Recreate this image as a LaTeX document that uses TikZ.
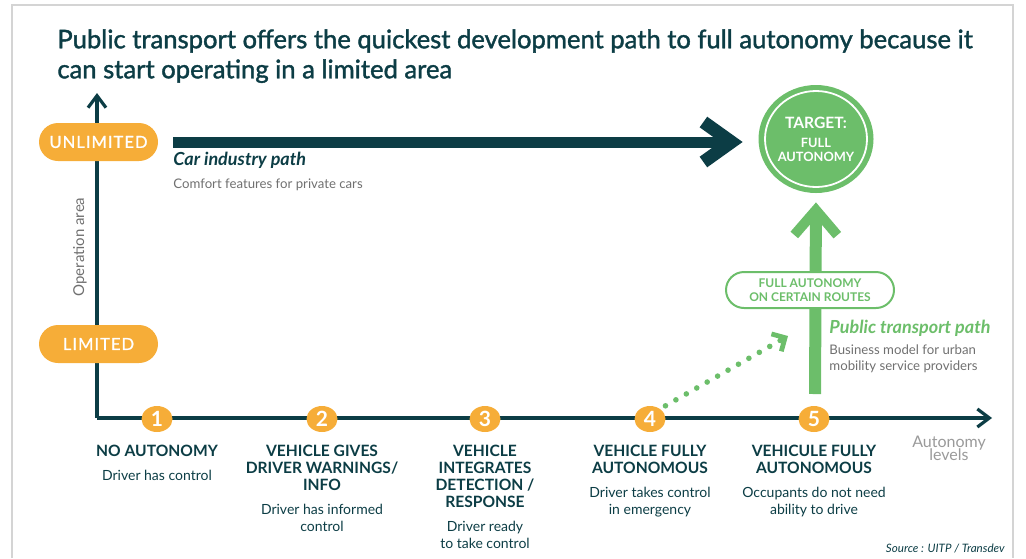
\documentclass[tikz,border=0pt]{standalone}
\usepackage{fontspec}
\setmainfont{Lato}
\usetikzlibrary{arrows.meta,shapes.geometric,positioning}
\definecolor{darkteal}{HTML}{0C3D45}
\definecolor{lvlorange}{HTML}{F6AD38}
\definecolor{pathgreen}{HTML}{6CBE6A}
\definecolor{notegrey}{HTML}{707070}
\definecolor{axisgrey}{HTML}{9A9A9A}
\definecolor{framegrey}{HTML}{D4D4D4}
\newcommand\tightlines{\lineskiplimit=-10pt\relax}

\begin{document}
\begin{tikzpicture}[x=0.5pt,y=-0.5pt,
    areapill/.style={fill=lvlorange,text=white,rounded corners=9.5pt,minimum width=59.5pt,minimum height=19pt,inner sep=0pt,font=\fontsize{8.3}{10}\selectfont\addfontfeature{LetterSpace=6,FakeBold=1}},
    lvl/.style={ellipse,fill=lvlorange,text=white,minimum width=15.5pt,minimum height=13pt,inner sep=0pt,font=\bfseries\fontsize{10.5}{10.5}\selectfont},
    lvltitle/.style={text=darkteal,align=center,inner sep=0pt,anchor=north,font=\bfseries\fontsize{7.8}{8.5}\selectfont},
    lvlnote/.style={text=darkteal,align=center,inner sep=0pt,below=6pt of #1,font=\fontsize{7}{8.5}\selectfont},
    note/.style={text=notegrey,align=left,inner sep=0pt,anchor=north west,font=\fontsize{6.6}{8}\selectfont},
    pathname/.style={inner sep=0pt,anchor=base west,font=\bfseries\itshape\fontsize{9}{10}\selectfont},
    axis/.style={darkteal,line width=1.6pt,-{Straight Barb[length=6pt,width=9pt]}},
    carpath/.style={darkteal,line width=5.5pt,-{Straight Barb[length=14pt,width=20pt,line width=6.5pt]}},
    ptpath/.style={pathgreen,line width=6pt,-{Straight Barb[length=12.5pt,width=21.5pt,line width=5pt]}},
    dotpath/.style={pathgreen,line width=2.8pt,line cap=round,dash pattern=on 0pt off 6pt,-{Straight Barb[length=5pt,width=10pt,line width=2.4pt]}},
]
    \useasboundingbox (0,0) rectangle (1026,558);
    % frame
    \draw[framegrey,line width=0.8pt] (12,558) -- (12,5) -- (1013,5) -- (1013,558);

    \node[anchor=north west,inner sep=0pt,align=left,text=darkteal,font=\fontsize{12.8}{15}\selectfont\addfontfeature{FakeBold=1.5}] (title) at (57,29)
        {Public transport offers the quickest development path to full autonomy because it\\can start operating in a limited area};

    % axes
    \coordinate (o) at (97,418);
    \coordinate (ytop) at (97,93);
    \coordinate (xend) at (992,418);
    \draw[axis] (o) -- (ytop);
    \draw[axis] (o) -- (xend);
    \node[rotate=90,text=notegrey,font=\fontsize{7.5}{9}\selectfont] (oparea) at (80,247) {Operation area};
    \node[anchor=north,inner sep=0pt,align=center,text=axisgrey,font=\fontsize{8}{6.5}\selectfont\tightlines] (xlabel) at (949,436) {Autonomy\\levels};

    \node[areapill] (unl) at (98.5,142) {UNLIMITED};
    \node[areapill] (lim) at (98.5,344) {LIMITED};

    % target
    \node[ellipse,fill=pathgreen,minimum width=57.5pt,minimum height=54pt,inner sep=0pt,text=white,align=center,font=\bfseries\fontsize{6.4}{7}\selectfont] (target) at (816,139)
        {{\fontsize{7.8}{8}\selectfont TARGET:}\\[2.5pt]FULL\\AUTONOMY};
    \draw[white,line width=0.9pt] (target.center) ellipse [x radius=25.5pt,y radius=24pt];

    % car industry path
    \coordinate (carstart) at (173,142);
    \draw[carpath,shorten >=7.75pt] (carstart) -- (carstart -| target.west);
    \node[pathname,text=darkteal] (carname) at (173,165) {Car industry path};
    \node[note] (carnote) at (173,178) {Comfort features for private cars};

    % public transport path
    \coordinate (ptstart) at (815,394);
    \draw[ptpath,shorten >=4.5pt] (ptstart) -- (target.south);
    \node[fill=white,draw=pathgreen,line width=1pt,rounded corners=9pt,minimum width=84pt,minimum height=18pt,inner sep=0pt,align=center,text=pathgreen,font=\bfseries\fontsize{6}{7}\selectfont] (routes) at (810,290)
        {FULL AUTONOMY\\ON CERTAIN ROUTES};
    \node[pathname,text=pathgreen] (ptname) at (829,333) {Public transport path};
    \node[note] (ptnote) at (829,344) {Business model for urban\\mobility service providers};

    % levels
    \node[lvl] (l1) at (157,419) {1};
    \node[lvl] (l2) at (322,419) {2};
    \node[lvl] (l3) at (485,419) {3};
    \node[lvl] (l4) at (650,419) {4};
    \node[lvl] (l5) at (814,419) {5};
    \coordinate (dotend) at (788,336);
    \draw[dotpath,shorten <=3pt] (l4.45) -- (dotend);

    \node[lvltitle] (t1) at (157,445) {NO AUTONOMY};
    \node[lvlnote=t1] (n1) {Driver has control};
    \node[lvltitle] (t2) at (322,445) {VEHICLE GIVES\\DRIVER WARNINGS/\\INFO};
    \node[lvlnote=t2] (n2) {Driver has informed\\control};
    \node[lvltitle] (t3) at (485,445) {VEHICLE\\INTEGRATES\\DETECTION /\\RESPONSE};
    \node[lvlnote=t3] (n3) {Driver ready\\to take control};
    \node[lvltitle] (t4) at (650,445) {VEHICLE FULLY\\AUTONOMOUS};
    \node[lvlnote=t4] (n4) {Driver takes control\\in emergency};
    \node[lvltitle] (t5) at (814,445) {VEHICULE FULLY\\AUTONOMOUS};
    \node[lvlnote=t5] (n5) {Occupants do not need\\ability to drive};

    \node[anchor=base east,inner sep=0pt,text=darkteal,font=\itshape\fontsize{5.8}{7}\selectfont] (source) at (1005,552) {Source : UITP / Transdev};
\end{tikzpicture}
\end{document}
